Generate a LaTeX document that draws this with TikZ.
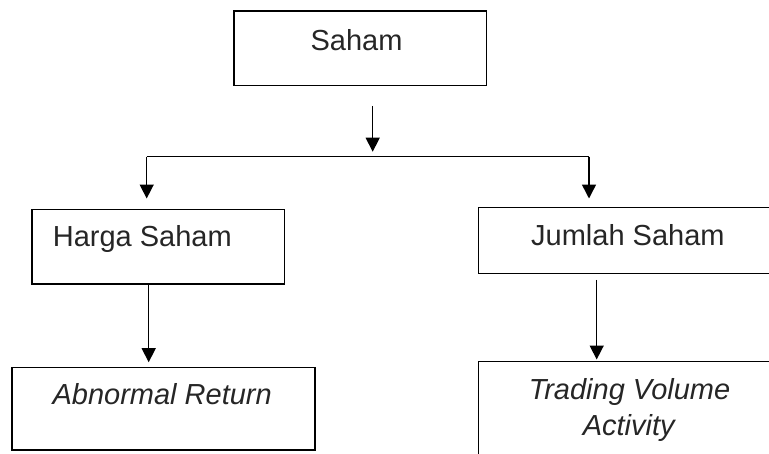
\documentclass[tikz,border=0pt]{standalone}
\usepackage{fontspec}
\setmainfont{Liberation Sans}
\usetikzlibrary{arrows.meta}
\begin{document}
\begin{tikzpicture}[x=1pt,y=-1pt,
  box/.style={draw=black,line width=1.6pt,rectangle,inner sep=0pt},
  txt/.style={inner sep=0pt,font=\fontsize{29}{36}\selectfont,text=black!85},
  arr/.style={line width=1.5pt,-{Triangle[width=14pt,length=14pt]}},
  ln/.style={line width=1.5pt}]
\useasboundingbox (0,0) rectangle (769,453);
\clip (0,0) rectangle (769,453);
\fill[white] (0,0) rectangle (769,453);
% boxes
\node[box,minimum width=252.3pt,minimum height=74.6pt] (saham) at (360.2,48) {};
\node[box,minimum width=252.7pt,minimum height=74.4pt] (harga) at (158.3,246.5) {};
\node[box,minimum width=312pt,minimum height=66.2pt] (jumlah) at (634.3,240.4) {};
\node[box,minimum width=303pt,minimum height=82.4pt] (abnormal) at (163.2,408.5) {};
\node[box,minimum width=312pt,minimum height=120pt] (trading) at (634.3,421.3) {};
% texts
\node[txt,anchor=base] (tsaham) at (356.5,50) {Saham};
\node[txt,anchor=base west] (tharga) at (52.7,246) {Harga Saham};
\node[txt,anchor=base] (tjumlah) at (627.9,245) {Jumlah Saham};
\node[txt,anchor=base] (tabnormal) at (162.2,404.7) {\itshape Abnormal Return};
\node[txt,anchor=base] (ttrading1) at (629.5,399.7) {\itshape Trading Volume};
\node[txt,anchor=base] (ttrading2) at (628.7,435.7) {\itshape Activity};
% connectors
\coordinate (fork) at (372.7,156.7);
\coordinate (fL) at (146.7,156.7);
\coordinate (fR) at (589,156.7);
\draw[arr,shorten <=19.7pt,shorten >=5pt] (saham.south -| fork) -- (fork);
\draw[ln] (fL) -- (fR);
\draw[arr,shorten >=10pt] (fL) -- (fL |- harga.north);
\draw[arr,shorten >=8pt] (fR) -- (fR |- jumlah.north);
\draw[arr,shorten >=4.3pt] ([xshift=-9.6pt]harga.south) -- ([xshift=-9.6pt]harga.south |- abnormal.north);
\draw[arr,shorten <=5.5pt,shorten >=1pt] ([xshift=-37.6pt]jumlah.south) -- ([xshift=-37.6pt]jumlah.south |- trading.north);
\end{tikzpicture}
\end{document}
